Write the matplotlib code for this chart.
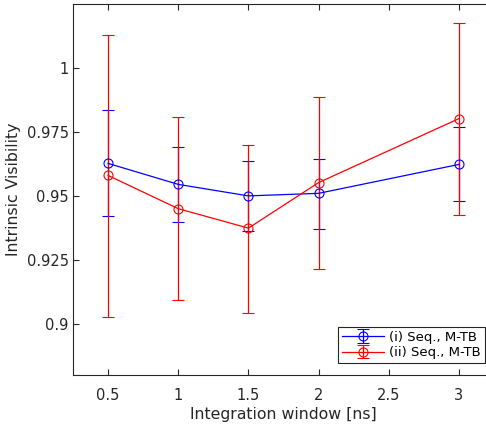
import numpy as np
import matplotlib
matplotlib.use("Agg")
from matplotlib import pyplot as plt

# integration windows [ns]
windows = [0.5, 1.0, 1.5, 2.0, 3.0]

# (i) Seq., M-TB
vis_i = [0.9627, 0.9545, 0.9500, 0.9510, 0.9623]
hi_i = [0.9835, 0.9690, 0.9638, 0.9643, 0.9768]
lo_i = [0.9420, 0.9397, 0.9362, 0.9369, 0.9479]

# (ii) Seq., M-TB
vis_ii = [0.9580, 0.9450, 0.9374, 0.9552, 0.9802]
hi_ii = [1.0130, 0.9807, 0.9700, 0.9888, 1.0176]
lo_ii = [0.9028, 0.9093, 0.9042, 0.9213, 0.9426]

xticks = [0.5, 1, 1.5, 2, 2.5, 3]
xticklabels = ["0.5", "1", "1.5", "2", "2.5", "3"]
yticks = [0.9, 0.925, 0.95, 0.975, 1.0]
yticklabels = ["0.9", "0.925", "0.95", "0.975", "1"]

plt.rcParams["font.family"] = "DejaVu Sans"
dark = "#262626"

fig = plt.figure(figsize=(4.86, 4.25), dpi=100)
ax = fig.add_axes([73 / 486, 50 / 425, 421 / 486, 371 / 425])


def _errbar(ax, y, hi, lo, color, label):
    y = np.array(y)
    yerr = [y - np.array(lo), np.array(hi) - y]
    return ax.errorbar(windows, y, yerr=yerr, color=color, ecolor=color,
                       marker="o", markersize=6.5, markerfacecolor="none",
                       markeredgewidth=0.8, linewidth=0.9, elinewidth=0.9,
                       capsize=4.5, capthick=0.9, label=label)


_errbar(ax, vis_i, hi_i, lo_i, "#0000ff", "(i) Seq., M-TB")
_errbar(ax, vis_ii, hi_ii, lo_ii, "#ff0000", "(ii) Seq., M-TB")

ax.set_xlim(0.25, 3.25)
ax.set_ylim(0.88, 1.025)
ax.set_xticks(xticks)
ax.set_xticklabels(xticklabels)
ax.set_yticks(yticks)
ax.set_yticklabels(yticklabels)
ax.tick_params(direction="in", length=4, width=0.8, colors=dark,
               labelsize=10.5, top=True, right=True)
ax.tick_params(axis="x", pad=9)
ax.tick_params(axis="y", pad=3)
for s in ax.spines.values():
    s.set_color(dark)
    s.set_linewidth(0.8)

ax.set_xlabel("Integration window [ns]", fontsize=11.3, color=dark, labelpad=3)
ax.set_ylabel("Intrinsic Visibility", fontsize=11.3, color=dark, labelpad=4)

leg = ax.legend(loc="lower right", bbox_to_anchor=(0.9786, 0.032),
                borderaxespad=0, fontsize=9.5, fancybox=False, framealpha=1,
                edgecolor=dark, handlelength=3.2, borderpad=0.3,
                labelspacing=0.2, handletextpad=0.4)
leg.get_frame().set_linewidth(0.8)

fig.savefig("out.png", dpi=100)
